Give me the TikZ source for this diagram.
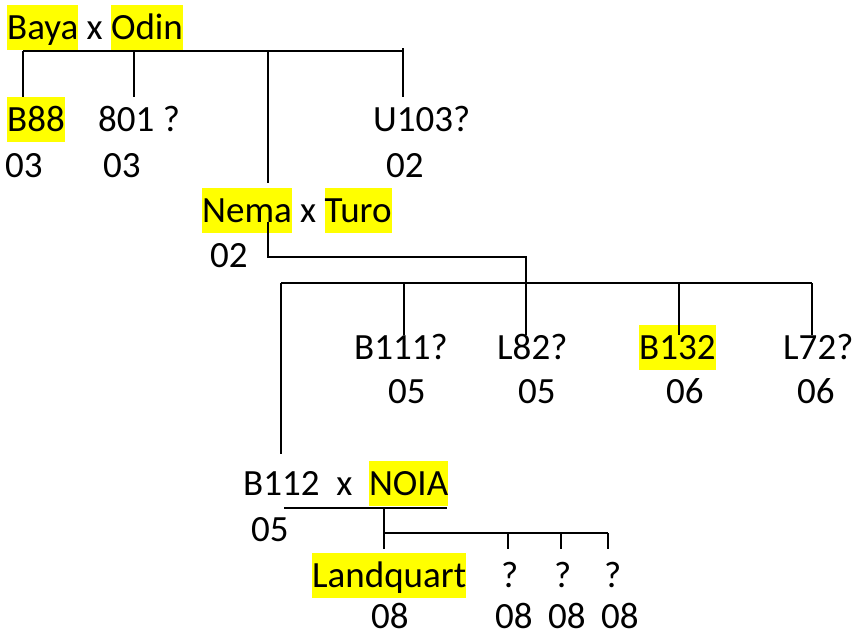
\documentclass[tikz,border=0pt]{standalone}
\usepackage{fontspec}
\setmainfont{Carlito}
\usepackage{xcolor}
\definecolor{amarillo}{RGB}{255,255,0}
\definecolor{negro}{RGB}{0,0,0}
\newcommand{\resaltar}[1]{{\setlength{\fboxsep}{0pt}\colorbox{amarillo}{\rule[-11pt]{0pt}{45pt}#1}}}

\tikzset{
  etiqueta/.style={inner sep=0pt, anchor=base west, text height=34pt, text depth=11pt,
    font=\fontsize{37}{45}\selectfont},
  ultima/.style={etiqueta, text depth=1pt},
  rama/.style={draw=negro, line width=1.6pt}
}

\begin{document}
\begin{tikzpicture}[x=1pt, y=-1pt]
    \useasboundingbox (0,0) rectangle (854,635);

    % primera generacion
    \node[etiqueta] (baya) at (7,39) {\resaltar{Baya} x \resaltar{Odin}};
    \node[etiqueta] (b88) at (7,131) {\resaltar{B88}};
    \node[etiqueta] (n801) at (98,131) {801 ?};
    \node[etiqueta] (u103) at (373,131) {U103?};
    \node[etiqueta] (a03a) at (5,177) {03};
    \node[etiqueta] (a03b) at (103,177) {03};
    \node[etiqueta] (a02u) at (386,177) {02};

    % Nema x Turo
    \node[etiqueta] (nema) at (202,222) {\resaltar{Nema} x \resaltar{Turo}};
    \node[etiqueta] (a02n) at (210,267) {02};

    % segunda generacion
    \node[etiqueta] (b111) at (354,359) {B111?};
    \node[etiqueta] (l82) at (497,359) {L82?};
    \node[etiqueta] (b132) at (639,359) {\resaltar{B132}};
    \node[etiqueta] (l72) at (783,359) {L72?};
    \node[etiqueta] (a05a) at (388,403) {05};
    \node[etiqueta] (a05b) at (518,403) {05};
    \node[etiqueta] (a06a) at (666,403) {06};
    \node[etiqueta] (a06b) at (797,403) {06};

    % B112 x NOIA
    \node[etiqueta] (b112) at (243,495) {B112~~x~~\resaltar{NOIA}};
    \node[etiqueta] (a05c) at (251,541) {05};
    \node[etiqueta] (landq) at (312,587) {\resaltar{Landquart}};
    \node[etiqueta] (q1) at (501,587) {?};
    \node[etiqueta] (q2) at (554,587) {?};
    \node[etiqueta] (q3) at (604,587) {?};
    \node[ultima] (a08a) at (371,628) {08};
    \node[ultima] (a08b) at (495,628) {08};
    \node[ultima] (a08c) at (548,628) {08};
    \node[ultima] (a08d) at (601,628) {08};

    % cruces y ramas
    \coordinate (c1a) at (23,51);
    \coordinate (c1b) at (134,51);
    \coordinate (c1c) at (268,51);
    \coordinate (c1d) at (403,51);
    \draw[rama] (c1a) -- (c1d);
    \draw[rama] (c1a) -- (c1a |- b88.north);
    \draw[rama] (c1b) -- (c1b |- n801.north);
    \draw[rama, shorten >=5pt] (c1c) -- (c1c |- nema.north);
    \draw[rama] ([yshift=3pt]c1d) -- (c1d |- u103.north);

    \coordinate (c2a) at (268,257);
    \coordinate (c2b) at (526,257);
    \draw[rama, shorten >=-10pt] (c2a |- nema.base) -- (c2a) -- (c2b) -- (c2b |- l82.north);

    \coordinate (c3a) at (281,283);
    \coordinate (c3b) at (404,283);
    \coordinate (c3c) at (679,283);
    \coordinate (c3d) at (812,283);
    \draw[rama] (c3a) -- (c3d);
    \draw[rama, shorten >=7pt] (c3a) -- (c3a |- b112.north);
    \draw[rama, shorten >=-10pt] (c3b) -- (c3b |- b111.north);
    \draw[rama, shorten >=-10pt] (c3c) -- (c3c |- b132.north);
    \draw[rama, shorten >=-10pt] (c3d) -- (c3d |- l72.north);

    \coordinate (c4a) at (284,508);
    \coordinate (c4b) at (447,508);
    \coordinate (c4c) at (384,508);
    \coordinate (c5a) at (384,533);
    \coordinate (c5b) at (508,533);
    \coordinate (c5c) at (561,533);
    \coordinate (c5d) at (608,533);
    \draw[rama] (c4a) -- (c4b);
    \draw[rama, shorten >=4pt] (c4c) -- (c4c |- landq.north);
    \draw[rama] (c5a) -- (c5d);
    \draw[rama, shorten >=4pt] (c5b) -- (c5b |- q1.north);
    \draw[rama, shorten >=4pt] (c5c) -- (c5c |- q2.north);
    \draw[rama, shorten >=4pt] (c5d) -- (c5d |- q3.north);
\end{tikzpicture}
\end{document}
